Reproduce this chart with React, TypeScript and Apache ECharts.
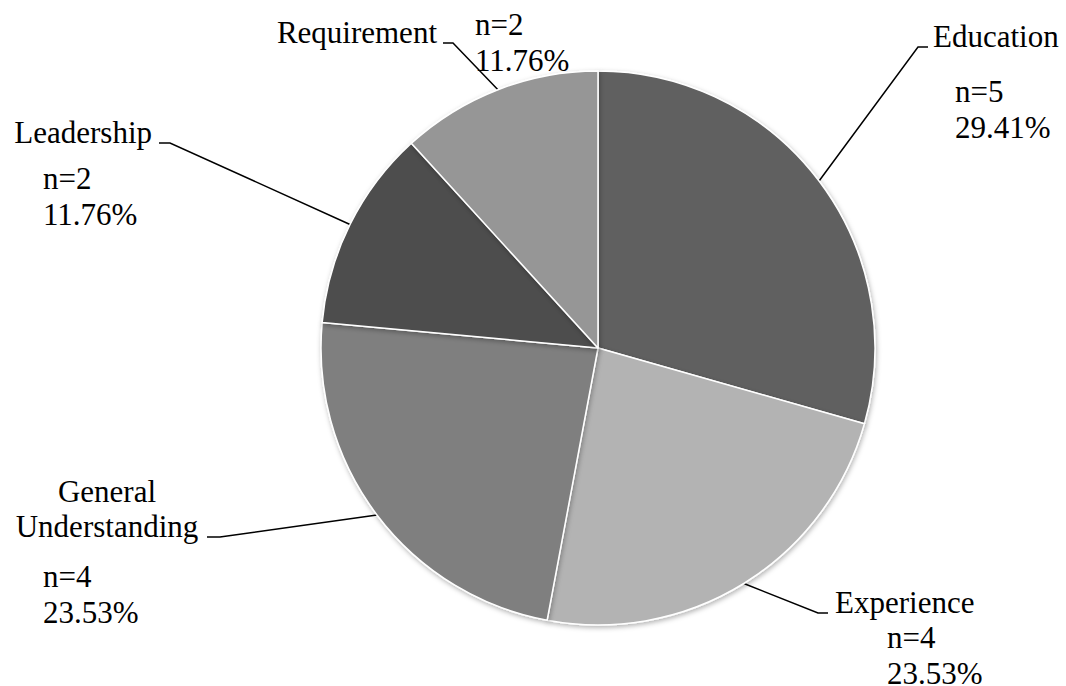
import React, { useEffect, useRef } from "react";
import * as echarts from "echarts";

// ---- data ----
const CATEGORIES = ["Education", "Experience", "General Understanding", "Leadership", "Requirement"];
const COUNTS = [5, 4, 4, 2, 2];
const COLORS = ["#616161", "#b3b3b3", "#7f7f7f", "#4d4d4d", "#969696"];

// ---- label placement (layout only) ----
const NAME_POS = [
  { x: 933, y: 36.5, align: "left", elbow: [918, 47], end: [928, 47] },
  { x: 835, y: 602.5, align: "left", elbow: [818, 613], end: [828, 613] },
  { x: 107, y: 509, align: "center", elbow: [220, 537], end: [207, 537] },
  { x: 152, y: 132.5, align: "right", elbow: [170, 143], end: [159, 143] },
  { x: 437, y: 32.5, align: "right", elbow: [453, 43], end: [443, 43] },
];
const VALUE_POS = [
  { x: 955, y: 73.5 },
  { x: 887, y: 619.5 },
  { x: 43, y: 558.5 },
  { x: 43, y: 160.5 },
  { x: 475, y: 6.5 },
];

const FONT = "Liberation Serif, Times New Roman, DejaVu Serif, serif";

export default function App() {
  const ref = useRef<HTMLDivElement>(null);
  useEffect(() => {
    if (!ref.current) return;
    const chart = echarts.init(ref.current, null, { renderer: "svg" });
    const total = COUNTS.reduce((a, b) => a + b, 0);
    const data = CATEGORIES.map((name, i) => ({
      name,
      value: COUNTS[i],
      itemStyle: { color: COLORS[i] },
    }));
    chart.setOption({
      animation: false,
      backgroundColor: "#ffffff",
      textStyle: { fontFamily: FONT },
      series: [
        {
          type: "pie",
          center: [598, 348],
          radius: 277,
          startAngle: 90,
          clockwise: true,
          avoidLabelOverlap: false,
          data,
          itemStyle: {
            borderColor: "#ffffff",
            borderWidth: 1.5,
            shadowBlur: 5,
            shadowOffsetX: 1,
            shadowOffsetY: 2,
            shadowColor: "rgba(0,0,0,0.3)",
          },
          label: {
            show: true,
            position: "outside",
            color: "#000",
            fontFamily: FONT,
            fontSize: 31,
            lineHeight: 35,
            formatter: (p: any) => (p.name === "General Understanding" ? "General\nUnderstanding" : p.name),
          },
          labelLine: {
            show: true,
            length: 15,
            length2: 15,
            smooth: false,
            lineStyle: { color: "#000", width: 1.5 },
          },
          emphasis: { disabled: true },
          labelLayout: (params: any) => {
            const pos = NAME_POS[params.dataIndex];
            const p0 = params.labelLinePoints ? params.labelLinePoints[0] : pos.elbow;
            return {
              x: pos.x,
              y: pos.y,
              align: pos.align,
              verticalAlign: "middle",
              labelLinePoints: [p0, pos.elbow, pos.end],
            };
          },
        },
        {
          type: "pie",
          center: [598, 348],
          radius: 277,
          startAngle: 90,
          clockwise: true,
          silent: true,
          avoidLabelOverlap: false,
          data: CATEGORIES.map((name, i) => ({ name, value: COUNTS[i] })),
          itemStyle: { color: "rgba(0,0,0,0)", borderWidth: 0 },
          label: {
            show: true,
            position: "outside",
            color: "#000",
            fontFamily: FONT,
            fontSize: 31,
            lineHeight: 36,
            formatter: (p: any) => `n=${p.value}\n${((p.value / total) * 100).toFixed(2)}%`,
          },
          labelLine: { show: false },
          emphasis: { disabled: true },
          labelLayout: (params: any) => {
            const pos = VALUE_POS[params.dataIndex];
            return { x: pos.x, y: pos.y, align: "left", verticalAlign: "top" };
          },
        },
      ],
    });
    return () => chart.dispose();
  }, []);
  return (
    <div
      ref={ref}
      style={{ position: "absolute", left: 0, top: 0, width: 1066, height: 686, background: "#fff" }}
    />
  );
}
